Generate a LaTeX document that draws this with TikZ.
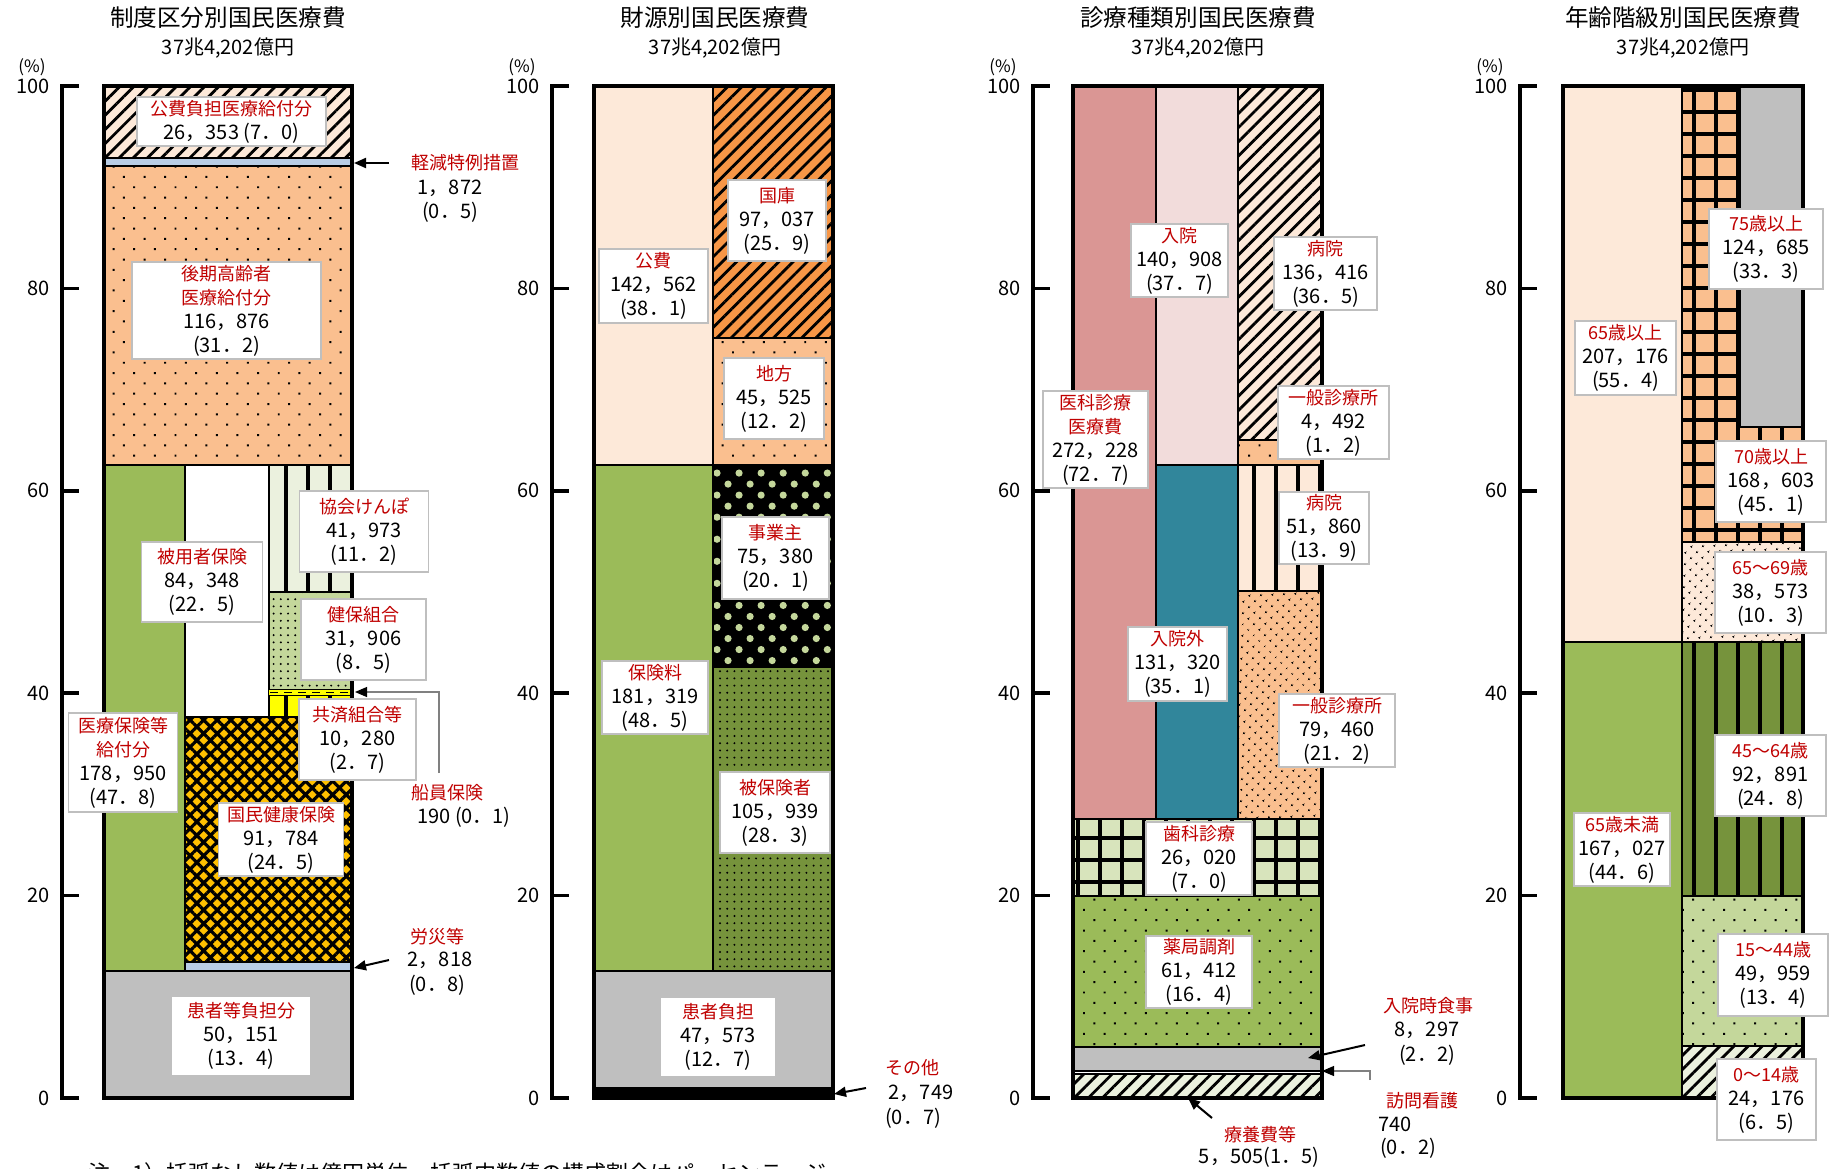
\documentclass[tikz,border=0pt]{standalone}
\usepackage{fontspec}
\setmainfont{Noto Sans CJK JP}
\usetikzlibrary{patterns.meta,arrows.meta}
\definecolor{jred}{HTML}{C00000}
\definecolor{cPeach}{HTML}{FDE9D9}
\definecolor{cOrL}{HTML}{FABF8F}
\definecolor{cOr}{HTML}{F79646}
\definecolor{cGr}{HTML}{9BBB59}
\definecolor{cGrD}{HTML}{76933C}
\definecolor{cGrL}{HTML}{C4D79B}
\definecolor{cGrLL}{HTML}{D8E4BC}
\definecolor{cGrX}{HTML}{EBF1DE}
\definecolor{cRed}{HTML}{DA9694}
\definecolor{cRedL}{HTML}{F2DCDB}
\definecolor{cTeal}{HTML}{31869B}
\definecolor{cBlueL}{HTML}{B9CDE5}
\definecolor{cGray}{HTML}{BFBFBF}
\definecolor{cGold}{HTML}{FFC000}
\definecolor{cYel}{HTML}{FFFF00}
\definecolor{boxgray}{HTML}{BFBFBF}
\newcommand\jr{\fontsize{9}{12}\selectfont\color{jred}}
\tikzset{
  bd/.style={postaction={draw=black,line width=1.3pt}},
  outline/.style={draw=black,line width=2pt},
  lblbox/.style={draw=boxgray,line width=0.8pt,fill=white,inner sep=0pt,align=center,font=\fontsize{10}{12}\selectfont},
  redlbl/.style={inner sep=0pt,font=\fontsize{9}{12}\selectfont,text=jred},
  numlbl/.style={inner sep=0pt,font=\fontsize{10}{12}\selectfont},
  ttl/.style={font=\fontsize{11.8}{14}\selectfont,inner sep=0pt},
  subt/.style={font=\fontsize{10}{12}\selectfont,inner sep=0pt},
  axlbl/.style={font=\fontsize{10}{12}\selectfont,inner sep=0pt,anchor=east},
  pct/.style={font=\fontsize{8.5}{10}\selectfont,inner sep=0pt},
  axisline/.style={line width=1.75pt,line cap=rect},
  arr/.style={line width=1pt,-{Triangle[length=6pt,width=5pt]}},
  conn/.style={line width=0.6pt,draw=gray,-{Triangle[length=6pt,width=5pt,color=black]}},
  pdiag/.style={postaction={pattern={Lines[angle=45,distance=5pt,line width=1.4pt]}}},
  pdotS/.style={postaction={pattern={Dots[angle=45,distance=7.3pt,radius=0.7pt]}}},
  pdotD/.style={postaction={pattern={Dots[angle=45,distance=4pt,radius=0.6pt]}}},
  pdotG/.style={postaction={pattern={Dots[angle=0,distance=3.6pt,radius=0.55pt]}}},
  pvert/.style={postaction={pattern={Lines[angle=90,distance=11pt,line width=2pt]}}},
  pgrid/.style={postaction={pattern={Hatch[angle=0,distance=11pt,line width=2.3pt]}}},
  plat/.style={postaction={pattern={Hatch[angle=45,distance=4.8pt,line width=1.6pt]}}},
  pplus/.style={postaction={pattern={Dots[angle=45,distance=7.8pt,radius=1.8pt]},pattern color=cGrL}},
}
\newcommand\yaxis[2]{%
  \draw[axisline] (#2,86) -- (#2,1098);
  \foreach \p in {0,20,40,60,80,100}{%
    \pgfmathsetmacro\yy{1098-10.12*\p}
    \draw[axisline] (#2,\yy) -- ({#2+15},\yy);
    \node[axlbl] (#1tick\p) at ({#2-12},\yy) {\p};
  }
  \node[pct] (#1pct) at ({#2-30},67) {(\%)};
}
\newcommand\lbox[6]{\node[lblbox,minimum width={#4*0.5pt},minimum height={#5*0.5pt}] (#1) at (#2,#3) {#6};}
\begin{document}
\begin{tikzpicture}[x=0.5pt,y=-0.5pt]
\useasboundingbox (0,0) rectangle (1834,1168);
\clip (0,0) rectangle (1834,1168);
\fill[white] (0,0) rectangle (1834,1168);

% ---------- titles ----------
\node[ttl] (t1) at (228,18) {制度区分別国民医療費};
\node[subt] (s1) at (228,48) {37兆4,202億円};
\node[ttl] (t2) at (715,18) {財源別国民医療費};
\node[subt] (s2) at (715,48) {37兆4,202億円};
\node[ttl] (t3) at (1198,18) {診療種類別国民医療費};
\node[subt] (s3) at (1198,48) {37兆4,202億円};
\node[ttl] (t4) at (1683,18) {年齢階級別国民医療費};
\node[subt] (s4) at (1683,48) {37兆4,202億円};

% ---------- axes ----------
\yaxis{a}{62}
\yaxis{b}{552}
\yaxis{c}{1033}
\yaxis{d}{1520}

% ---------- panel 1 ----------
\path[fill=cPeach,pdiag,bd] (104,86) rectangle (352,158);
\path[fill=cBlueL,bd] (104,158) rectangle (352,166);
\path[fill=cOrL,pdotS,bd] (104,166) rectangle (352,465);
\path[fill=cGr,bd] (104,465) rectangle (185,971);
\path[fill=white,bd] (185,465) rectangle (269,717);
\path[fill=cGrX,pvert,bd] (269,465) rectangle (352,592);
\path[fill=cGrL,pdotG,bd] (269,592) rectangle (352,690);
\path[fill=cYel,pvert,bd] (269,695) rectangle (352,717);
\path[fill=cYel] (269,690) rectangle (352,695);
\draw[line width=0.8pt,dash pattern=on 4pt off 3pt] (270,692.5) -- (351,692.5);
\path[fill=cGold,plat,bd] (185,717) rectangle (352,962);
\path[fill=cBlueL,bd] (185,962) rectangle (352,971);
\path[fill=cGray,bd] (104,971) rectangle (352,1098);
\draw[outline] (104,86) rectangle (352,1098);

\lbox{a1}{231.5}{121.5}{189}{49}{{\jr 公費負担医療給付分}\\26，353 (7．0)}
\lbox{a2}{226.5}{310.5}{189}{97}{{\jr 後期高齢者}\\{\jr 医療給付分}\\116，876\\(31．2)}
\lbox{a3}{202}{582}{121}{80}{{\jr 被用者保険}\\84，348\\(22．5)}
\lbox{a4}{364}{531.5}{129}{81}{{\jr 協会けんぽ}\\41，973\\(11．2)}
\lbox{a5}{363.5}{639.5}{125}{81}{{\jr 健保組合}\\31，906\\(8．5)}
\lbox{a6}{357.5}{739.5}{117}{81}{{\jr 共済組合等}\\10，280\\(2．7)}
\lbox{a7}{123}{762.5}{109}{99}{{\jr 医療保険等}\\{\jr 給付分}\\178，950\\(47．8)}
\lbox{a8}{281}{839.5}{125}{73}{{\jr 国民健康保険}\\91，784\\(24．5)}
\lbox{a9}{241}{1036}{140}{80}{{\jr 患者等負担分}\\50，151\\(13．4)}

\node[redlbl] (keigen) at (465,163) {軽減特例措置};
\node[numlbl] (keigenv) at (450,188) {1，872};
\node[numlbl] (keigenp) at (450,212) {(0．5)};
\coordinate (keigenA) at (389,163);
\coordinate (keigenB) at (354,163);
\draw[arr] (keigenA) -- (keigenB);

\node[redlbl] (senin) at (447,793) {船員保険};
\node[numlbl] (seninv) at (464,817) {190 (0．1)};
\coordinate (seninA) at (439,773);
\coordinate (seninB) at (355,692);
\draw[conn] (seninA) |- (seninB);

\node[redlbl] (rosai) at (437,937) {労災等};
\node[numlbl] (rosaiv) at (440,960) {2，818};
\node[numlbl] (rosaip) at (437,985) {(0．8)};
\coordinate (rosaiA) at (389,960);
\coordinate (rosaiB) at (354,968);
\draw[arr] (rosaiA) -- (rosaiB);

% ---------- panel 2 ----------
\path[fill=cPeach,bd] (594,86) rectangle (713,465);
\path[fill=cGr,bd] (594,465) rectangle (713,971);
\path[fill=cOr,pdiag,bd] (713,86) rectangle (833,338);
\path[fill=cOrL,pdotS,bd] (713,338) rectangle (833,465);
\path[fill=black,pplus,bd] (713,465) rectangle (833,667);
\path[fill=cGrD,pdotG,bd] (713,667) rectangle (833,971);
\path[fill=cGray,bd] (594,971) rectangle (833,1088);
\path[fill=black,bd] (594,1088) rectangle (833,1098);
\draw[outline] (594,86) rectangle (833,1098);

\lbox{b1}{653.5}{286}{109}{74}{{\jr 公費}\\142，562\\(38．1)}
\lbox{b2}{777}{220.5}{98}{81}{{\jr 国庫}\\97，037\\(25．9)}
\lbox{b3}{774}{398.5}{100}{81}{{\jr 地方}\\45，525\\(12．2)}
\lbox{b4}{775.5}{558}{107}{82}{{\jr 事業主}\\75，380\\(20．1)}
\lbox{b5}{655}{697.5}{106}{73}{{\jr 保険料}\\181，319\\(48．5)}
\lbox{b6}{775}{812.5}{110}{81}{{\jr 被保険者}\\105，939\\(28．3)}
\lbox{b7}{718}{1037}{116}{80}{{\jr 患者負担}\\47，573\\(12．7)}

\node[redlbl] (sonota) at (912,1068) {その他};
\node[numlbl] (sonotav) at (921,1093) {2，749};
\node[numlbl] (sonotap) at (913,1118) {(0．7)};
\coordinate (sonotaA) at (866,1088);
\coordinate (sonotaB) at (834,1094);
\draw[arr] (sonotaA) -- (sonotaB);

% ---------- panel 3 ----------
\path[fill=cRed,bd] (1073,86) rectangle (1156,819);
\path[fill=cRedL,bd] (1156,86) rectangle (1238,465);
\path[fill=cTeal,bd] (1156,465) rectangle (1238,819);
\path[fill=cPeach,pdiag,bd] (1238,86) rectangle (1322,440);
\path[fill=cOrL,pdotS,bd] (1238,440) rectangle (1322,465);
\path[fill=cPeach,pvert,bd] (1238,465) rectangle (1322,591);
\path[fill=cOrL,pdotD,bd] (1238,591) rectangle (1322,819);
\path[fill=cGrLL,pgrid,bd] (1073,819) rectangle (1322,896);
\path[fill=cGr,pdotS,bd] (1073,896) rectangle (1322,1047);
\path[fill=cGray,bd] (1073,1047) rectangle (1322,1071);
\path[fill=white,bd] (1073,1071) rectangle (1322,1074);
\path[fill=cGrX,pdiag,bd] (1073,1074) rectangle (1322,1098);
\draw[outline] (1073,86) rectangle (1322,1098);

\lbox{c1}{1179.5}{260.5}{97}{73}{{\jr 入院}\\140，908\\(37．7)}
\lbox{c2}{1325.5}{273.5}{103}{73}{{\jr 病院}\\136，416\\(36．5)}
\lbox{c3}{1095.5}{439.5}{105}{97}{{\jr 医科診療}\\{\jr 医療費}\\272，228\\(72．7)}
\lbox{c4}{1333.5}{422.5}{111}{73}{{\jr 一般診療所}\\4，492\\(1．2)}
\lbox{c5}{1324}{528}{90}{72}{{\jr 病院}\\51，860\\(13．9)}
\lbox{c6}{1177.5}{664}{99}{74}{{\jr 入院外}\\131，320\\(35．1)}
\lbox{c7}{1337}{730.5}{116}{73}{{\jr 一般診療所}\\79，460\\(21．2)}
\lbox{c8}{1199}{858.5}{106}{73}{{\jr 歯科診療}\\26，020\\(7．0)}
\lbox{c9}{1199}{972}{106}{72}{{\jr 薬局調剤}\\61，412\\(16．4)}

\node[redlbl] (shokuji) at (1428,1006) {入院時食事};
\node[numlbl] (shokujiv) at (1427,1030) {8，297};
\node[numlbl] (shokujip) at (1427,1055) {(2．2)};
\coordinate (shokujiA) at (1365,1045);
\coordinate (shokujiB) at (1308,1058);
\draw[arr] (shokujiA) -- (shokujiB);

\node[redlbl] (houmon) at (1422,1101) {訪問看護};
\node[numlbl] (houmonv) at (1395,1124) {740};
\node[numlbl] (houmonp) at (1408,1148) {(0．2)};
\coordinate (houmonA) at (1370,1080);
\coordinate (houmonB) at (1322,1071);
\draw[conn] (houmonA) |- (houmonB);

\node[redlbl] (ryoyo) at (1260,1135) {療養費等};
\node[numlbl] (ryoyov) at (1259,1157) {5，505(1．5)};
\coordinate (ryoyoA) at (1212,1118);
\coordinate (ryoyoB) at (1188,1098);
\draw[arr] (ryoyoA) -- (ryoyoB);

% ---------- panel 4 ----------
\path[fill=cPeach,bd] (1563,86) rectangle (1682,642);
\path[fill=cGr,bd] (1563,642) rectangle (1682,1098);
\path[fill=cOrL,pgrid,bd] (1682,86) rectangle (1803,542);
\path[fill=cGray,draw=black,line width=1pt] (1740,86) rectangle (1803,427);
\path[fill=cPeach,pdotD,bd] (1682,542) rectangle (1803,642);
\path[fill=cGrD,pvert,bd] (1682,642) rectangle (1803,896);
\path[fill=cGrL,pdotS,bd] (1682,896) rectangle (1803,1046);
\path[fill=cGrX,pdiag,bd] (1682,1046) rectangle (1803,1098);
\draw[outline] (1563,86) rectangle (1803,1098);

\lbox{d1}{1766}{249}{114}{80}{{\jr 75歳以上}\\124，685\\(33．3)}
\lbox{d2}{1625.5}{358}{101}{74}{{\jr 65歳以上}\\207，176\\(55．4)}
\lbox{d3}{1771}{481.5}{110}{81}{{\jr 70歳以上}\\168，603\\(45．1)}
\lbox{d4}{1770.5}{592.5}{111}{81}{{\jr 65～69歳}\\38，573\\(10．3)}
\lbox{d5}{1770.5}{775.5}{111}{81}{{\jr 45～64歳}\\92，891\\(24．8)}
\lbox{d6}{1622}{849.5}{96}{73}{{\jr 65歳未満}\\167，027\\(44．6)}
\lbox{d7}{1773}{975}{110}{82}{{\jr 15～44歳}\\49，959\\(13．4)}
\lbox{d8}{1766.5}{1099.5}{99}{81}{{\jr 0～14歳}\\24，176\\(6．5)}

% ---------- note (cut at bottom edge) ----------
\node[anchor=base west,inner sep=0pt,font=\fontsize{11}{13}\selectfont] (note) at (88,1181) {注　1）括弧なし数値は億円単位、括弧内数値の構成割合はパーセンテージ};
\end{tikzpicture}
\end{document}
